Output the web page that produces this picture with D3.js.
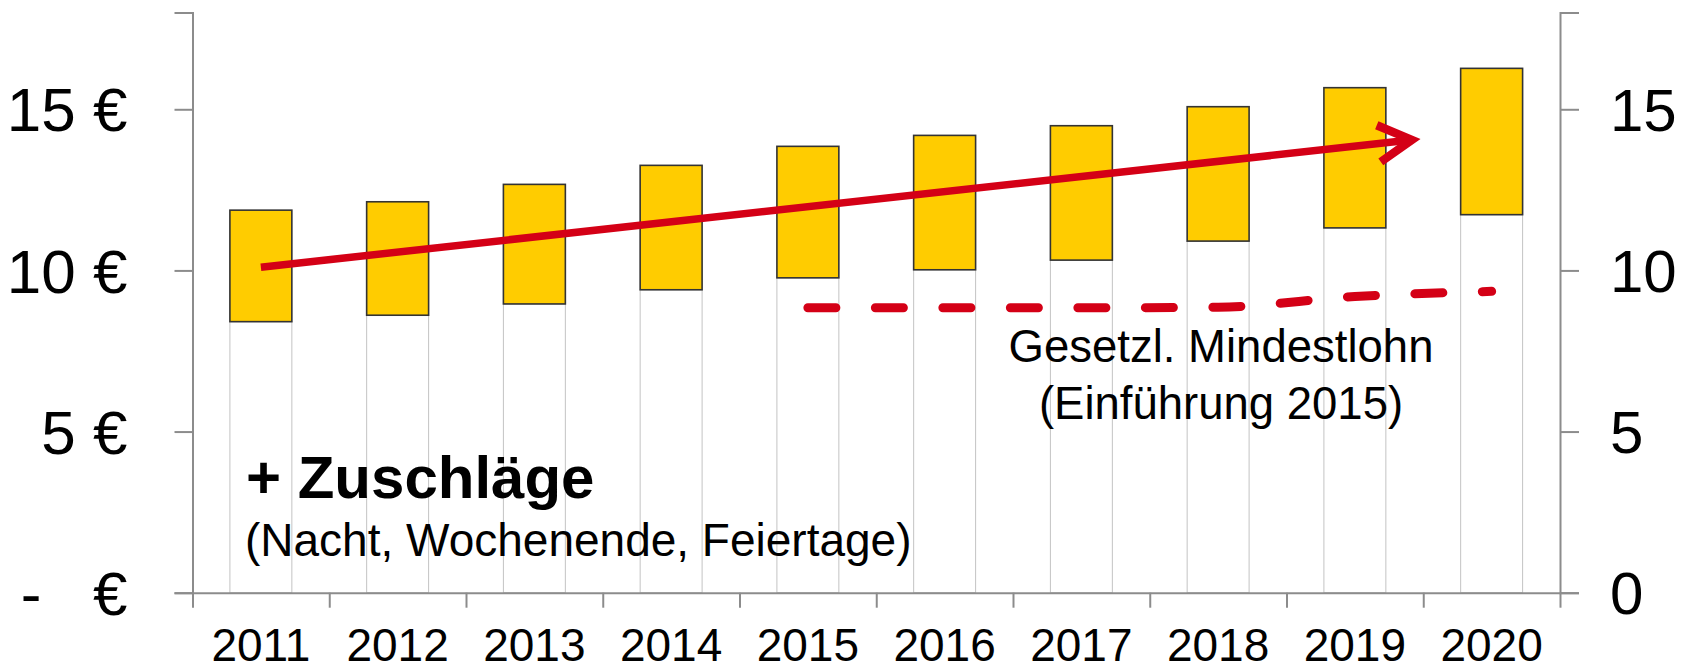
<!DOCTYPE html>
<html>
<head>
<meta charset="utf-8">
<script src="https://cdn.jsdelivr.net/npm/d3@7"></script>
<style>
  body { margin: 0; background: #fff; }
  svg { display: block; font-family: "Liberation Sans", Arial, sans-serif; }
  .axis text { fill: #000; white-space: pre; }
</style>
</head>
<body>
<svg id="chart" width="1684" height="667"></svg>
<script>
// data
var years = ["2011", "2012", "2013", "2014", "2015", "2016", "2017", "2018", "2019", "2020"];
var lowValues  = [8.41, 8.61, 8.96, 9.40, 9.77, 10.02, 10.32, 10.91, 11.32, 11.73];
var highValues = [11.87, 12.13, 12.67, 13.26, 13.85, 14.19, 14.49, 15.08, 15.67, 16.27];

var mindestYears  = ["2015", "2016", "2017", "2018", "2019", "2020"];
var mindestValues = [8.84, 8.84, 8.84, 8.86, 9.19, 9.35];

// trend arrow: [category index, value]
var arrowFrom = [0, 10.10];
var arrowTo   = [8.46, 14.07];

var yTicks = [0, 5, 10, 15];
var yLabelsLeft  = ["-   €", "5 €", "10 €", "15 €"];
var yLabelsRight = ["0", "5", "10", "15"];

var red = "#d40016";

var svg = d3.select("#chart");
svg.append("rect").attr("width", 1684).attr("height", 667).attr("fill", "#fff");

var plotLeft = 192.5, plotRight = 1560, plotTop = 12.6, plotBottom = 592.7;

var x = d3.scaleBand()
    .domain(years)
    .range([plotLeft, plotRight])
    .paddingInner(0.547)
    .paddingOuter(0.2735);

var y = d3.scaleLinear().domain([0, 18]).range([plotBottom, plotTop]);

// centre of each category, as a continuous scale (for the arrow)
var xc = d3.scaleLinear()
    .domain([0, years.length - 1])
    .range([x(years[0]) + x.bandwidth() / 2, x(years[years.length - 1]) + x.bandwidth() / 2]);

// boundaries between categories, for the x ticks
var xb = d3.scaleLinear().domain([0, years.length]).range([plotLeft, plotRight]);

// lower (invisible) part of the bars
svg.append("g").selectAll("rect")
    .data(years)
    .enter()
    .append("rect")
    .attr("x", function(d) { return x(d); })
    .attr("width", x.bandwidth())
    .attr("y", function(d, i) { return y(lowValues[i]); })
    .attr("height", function(d, i) { return y(0) - y(lowValues[i]); })
    .attr("fill", "#fff")
    .attr("stroke", "#c4c4c4")
    .attr("stroke-width", 1);

// yellow Zuschlag boxes
svg.append("g").selectAll("rect")
    .data(years)
    .enter()
    .append("rect")
    .attr("x", function(d) { return x(d); })
    .attr("width", x.bandwidth())
    .attr("y", function(d, i) { return y(highValues[i]); })
    .attr("height", function(d, i) { return y(lowValues[i]) - y(highValues[i]); })
    .attr("fill", "#ffcc00")
    .attr("stroke", "#333")
    .attr("stroke-width", 1.6);

// axes
var gLeft = svg.append("g")
    .attr("class", "axis")
    .attr("transform", "translate(" + plotLeft + ",0)")
    .call(d3.axisLeft(y)
        .tickValues(yTicks)
        .tickSize(18)
        .tickPadding(47)
        .tickFormat(function(d, i) { return yLabelsLeft[i]; }));

var gRight = svg.append("g")
    .attr("class", "axis")
    .attr("transform", "translate(" + plotRight + ",0)")
    .call(d3.axisRight(y)
        .tickValues(yTicks)
        .tickSize(19)
        .tickPadding(31)
        .tickFormat(function(d, i) { return yLabelsRight[i]; }));

var gBottom = svg.append("g")
    .attr("class", "axis")
    .attr("transform", "translate(0," + plotBottom + ")")
    .call(d3.axisBottom(xb)
        .tickValues(d3.range(0, years.length + 1))
        .tickSize(15)
        .tickSizeOuter(0)
        .tickFormat(""));

var gLabels = svg.append("g")
    .attr("class", "axis")
    .attr("transform", "translate(0," + plotBottom + ")")
    .call(d3.axisBottom(x).tickSize(0).tickPadding(35));
gLabels.select(".domain").remove();

svg.selectAll(".axis .domain, .axis line")
    .attr("stroke", "#8c8c8c")
    .attr("stroke-width", 2);
gLeft.selectAll("text").attr("font-size", 62).attr("dy", "0.35em");
gRight.selectAll("text").attr("font-size", 60).attr("dy", "0.35em");
gLabels.selectAll("text").attr("font-size", 46).attr("dy", "0.72em");
svg.selectAll(".axis").attr("font-family", null).attr("font-size", null);

// minimum wage, dashed
var mLine = d3.line()
    .x(function(d) { return x(d) + x.bandwidth() / 2; })
    .y(function(d, i) { return y(mindestValues[i]); })
    .curve(d3.curveMonotoneX);

svg.append("path")
    .datum(mindestYears)
    .attr("d", mLine)
    .attr("fill", "none")
    .attr("stroke", red)
    .attr("stroke-width", 9)
    .attr("stroke-linecap", "round")
    .attr("stroke-dasharray", "28,39.5");

// trend arrow
var x0 = xc(arrowFrom[0]), y0 = y(arrowFrom[1]);
var x1 = xc(arrowTo[0]), y1 = y(arrowTo[1]);
var ang = Math.atan2(y1 - y0, x1 - x0);
var headLen = 38, headAng = 29 * Math.PI / 180;

svg.append("line")
    .attr("x1", x0).attr("y1", y0)
    .attr("x2", x1 - 5 * Math.cos(ang)).attr("y2", y1 - 5 * Math.sin(ang))
    .attr("stroke", red)
    .attr("stroke-width", 7.5);

var tipX = x1 - 6 * Math.cos(ang), tipY = y1 - 6 * Math.sin(ang);
svg.append("path")
    .attr("d", "M" + (tipX - headLen * Math.cos(ang - headAng)) + "," + (tipY - headLen * Math.sin(ang - headAng)) +
               "L" + tipX + "," + tipY +
               "L" + (tipX - headLen * Math.cos(ang + headAng)) + "," + (tipY - headLen * Math.sin(ang + headAng)))
    .attr("fill", "none")
    .attr("stroke", red)
    .attr("stroke-width", 8.5)
    .attr("stroke-linejoin", "miter");

// annotations
svg.append("text")
    .attr("x", 246).attr("y", 498)
    .attr("font-size", 60)
    .attr("font-weight", "bold")
    .text("+ Zuschläge");

svg.append("text")
    .attr("x", 245).attr("y", 556)
    .attr("font-size", 46)
    .text("(Nacht, Wochenende, Feiertage)");

svg.append("text")
    .attr("x", 1221).attr("y", 362)
    .attr("text-anchor", "middle")
    .attr("font-size", 45.5)
    .text("Gesetzl. Mindestlohn");

svg.append("text")
    .attr("x", 1221).attr("y", 419)
    .attr("text-anchor", "middle")
    .attr("font-size", 45.5)
    .text("(Einführung 2015)");
</script>
</body>
</html>
